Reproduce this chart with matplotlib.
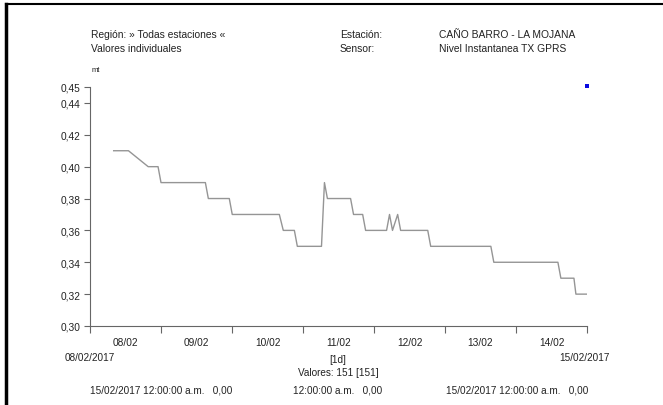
import matplotlib
matplotlib.use('Agg')
import matplotlib.pyplot as plt
from matplotlib.lines import Line2D
import pandas as pd

plt.rcParams['font.family'] = ['Liberation Sans Narrow', 'Liberation Sans', 'DejaVu Sans']

# level readings (mt), times
times = ['2017-02-08 08:00', '2017-02-08 13:00', '2017-02-08 19:40', '2017-02-08 23:00',
         '2017-02-09 00:00', '2017-02-09 15:00', '2017-02-09 16:00', '2017-02-09 23:05',
         '2017-02-10 00:05', '2017-02-10 16:00', '2017-02-10 17:20', '2017-02-10 21:05',
         '2017-02-10 22:05', '2017-02-11 06:15', '2017-02-11 07:15', '2017-02-11 08:15',
         '2017-02-11 16:05', '2017-02-11 17:05', '2017-02-11 20:10', '2017-02-11 21:10',
         '2017-02-12 04:15', '2017-02-12 05:15', '2017-02-12 06:15', '2017-02-12 08:00',
         '2017-02-12 09:00', '2017-02-12 18:10', '2017-02-12 19:10', '2017-02-13 15:30',
         '2017-02-13 16:30', '2017-02-14 14:10', '2017-02-14 15:10', '2017-02-14 19:35',
         '2017-02-14 20:15', '2017-02-15 00:00']
levels = [0.41, 0.41, 0.40, 0.40,
          0.39, 0.39, 0.38, 0.38,
          0.37, 0.37, 0.36, 0.36,
          0.35, 0.35, 0.39, 0.38,
          0.38, 0.37, 0.37, 0.36,
          0.36, 0.37, 0.36, 0.37,
          0.36, 0.36, 0.35, 0.35,
          0.34, 0.34, 0.33, 0.33,
          0.32, 0.32]

marker_time = ['2017-02-15 00:00']
marker_level = [0.4508]

day_labels = ['08/02', '09/02', '10/02', '11/02', '12/02', '13/02', '14/02']
y_ticks = [0.30, 0.32, 0.34, 0.36, 0.38, 0.40, 0.42, 0.44, 0.45]
y_labels = ['0,30', '0,32', '0,34', '0,36', '0,38', '0,40', '0,42', '0,44', '0,45']

t = pd.to_datetime(times)
start = pd.Timestamp('2017-02-08')
end = pd.Timestamp('2017-02-15')

W, H = 663, 406
fig = plt.figure(figsize=(W / 100, H / 100), dpi=100)
ax = fig.add_axes([90 / W, (H - 327) / H, (587 - 90) / W, (327 - 88) / H])

ax.plot(t, levels, color='#959595', linewidth=1.0)
ax.scatter(pd.to_datetime(marker_time), marker_level, marker='s', s=6, color='#0a0ae0',
           linewidths=0, clip_on=False, zorder=5)

ax.set_xlim(start, end)
ax.set_ylim(0.30, 0.45)

for s in ['top', 'right']:
    ax.spines[s].set_visible(False)
for s in ['left', 'bottom']:
    ax.spines[s].set_color('#666666')
    ax.spines[s].set_linewidth(0.8)

day_edges = pd.date_range(start, end, freq='D')
day_mid = pd.date_range(start + pd.Timedelta(hours=12), periods=len(day_labels), freq='D')
ax.set_xticks(day_edges)
ax.set_xticklabels([])
ax.set_xticks(day_mid, minor=True)
ax.set_xticklabels(day_labels, minor=True)
ax.tick_params(axis='x', which='major', length=5, color='#666666')
ax.tick_params(axis='x', which='minor', length=0, pad=8, labelsize=7.3, labelcolor='#222222')

ax.set_yticks(y_ticks)
ax.set_yticklabels(y_labels)
ax.tick_params(axis='y', length=4, color='#666666', labelsize=7.3, labelcolor='#222222', pad=3)

fs = 7.4
tc = '#222222'
fig.text(91 / W, 1 - 35 / H, 'Región: » Todas estaciones «', fontsize=fs, color=tc, va='center')
fig.text(91 / W, 1 - 49 / H, 'Valores individuales', fontsize=fs, color=tc, va='center')
fig.text(340 / W, 1 - 35 / H, 'Estación:', fontsize=fs, color=tc, va='center')
fig.text(340 / W, 1 - 49 / H, 'Sensor:', fontsize=fs, color=tc, va='center')
fig.text(439 / W, 1 - 35 / H, 'CAÑO BARRO - LA MOJANA', fontsize=fs, color=tc, va='center')
fig.text(439 / W, 1 - 49 / H, 'Nivel Instantanea TX GPRS', fontsize=fs, color=tc, va='center')
fig.text(92 / W, 1 - 70 / H, 'mt', fontsize=5.5, color=tc, va='center')

fs2 = 7.2
fig.text(65 / W, 1 - 358 / H, '08/02/2017', fontsize=fs2, color=tc, va='center')
fig.text(610 / W, 1 - 358 / H, '15/02/2017', fontsize=fs2, color=tc, va='center', ha='right')
fig.text(338 / W, 1 - 360 / H, '[1d]', fontsize=fs2, color=tc, va='center', ha='center')
fig.text(338 / W, 1 - 373 / H, 'Valores: 151 [151]', fontsize=fs2, color=tc, va='center', ha='center')
fig.text(90 / W, 1 - 391 / H, '15/02/2017 12:00:00 a.m.   0,00', fontsize=fs2, color=tc, va='center')
fig.text(338 / W, 1 - 391 / H, '12:00:00 a.m.   0,00', fontsize=fs2, color=tc, va='center', ha='center')
fig.text(588 / W, 1 - 391 / H, '15/02/2017 12:00:00 a.m.   0,00', fontsize=fs2, color=tc, va='center', ha='right')

# frame around the picture
fig.add_artist(Line2D([5.5 / W, 5.5 / W], [0, 1 - 5 / H], color='black', linewidth=2.5))
fig.add_artist(Line2D([5.5 / W, 1], [1 - 5 / H, 1 - 5 / H], color='black', linewidth=1.5))

fig.savefig('out.png', dpi=100)
